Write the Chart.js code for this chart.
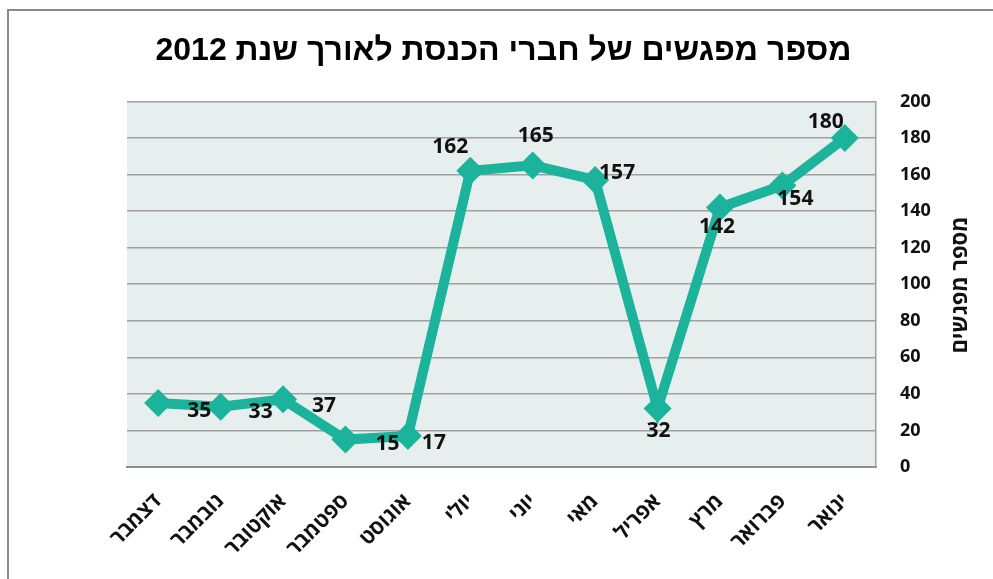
<!DOCTYPE html>
<html lang="he">
<head>
<meta charset="utf-8">
<script src="https://cdn.jsdelivr.net/npm/chart.js@4"></script>
<style>
  html, body { margin: 0; padding: 0; background: #ffffff; }
  #wrap { position: relative; width: 993px; height: 579px; overflow: hidden; }
  #frame { position: absolute; left: 7px; top: 9px; width: 1100px; height: 700px;
           border-top: 2px solid #8a8a8a; border-left: 2px solid #8a8a8a; box-sizing: border-box; }
  canvas { position: absolute; left: 0; top: 0; }
</style>
</head>
<body>
<div id="wrap">
  <div id="frame"></div>
  <canvas id="c" width="993" height="579"></canvas>
</div>
<script>
const chartTitle = 'מספר מפגשים של חברי הכנסת לאורך שנת 2012';
const yAxisTitle = 'מספר מפגשים';
const months = ['ינואר', 'פברואר', 'מרץ', 'אפריל', 'מאי', 'יוני', 'יולי', 'אוגוסט', 'ספטמבר', 'אוקטובר', 'נובמבר', 'דצמבר'];
const meetings = [180, 154, 142, 32, 157, 165, 162, 17, 15, 37, 33, 35];
const yTicks = { min: 0, max: 200, step: 20 };
// label placement relative to each point (dx, dy in px)
const labelAnchor = [[-19,-16],[13,14],[-3,20],[1,23],[22,-7],[3,-29],[-20,-24],[26,7],[42,4],[41,7],[40,5],[41,8]];

const teal = '#1bb39b';
const hebFont = "'Open Sans', 'DejaVu Sans', sans-serif";

const plotBg = {
  id: 'plotBg',
  beforeDraw(chart) {
    const { ctx, chartArea: a } = chart;
    ctx.save();
    ctx.fillStyle = '#e6efed';
    ctx.fillRect(a.left, a.top, a.right - a.left, a.bottom - a.top);
    ctx.restore();
  }
};

const valueLabels = {
  id: 'valueLabels',
  afterDatasetsDraw(chart) {
    const { ctx } = chart;
    const meta = chart.getDatasetMeta(0);
    ctx.save();
    ctx.fillStyle = '#111';
    ctx.font = "bold 21px 'Open Sans', 'DejaVu Sans', sans-serif";
    ctx.textAlign = 'center';
    ctx.textBaseline = 'middle';
    meta.data.forEach((pt, i) => {
      const [dx, dy] = labelAnchor[i];
      ctx.fillText(String(meetings[i]), pt.x + dx, pt.y + dy);
    });
    ctx.restore();
  }
};

const yTitle = {
  id: 'yTitle',
  afterDraw(chart) {
    const { ctx } = chart;
    ctx.save();
    ctx.translate(961, 285);
    ctx.rotate(-Math.PI / 2);
    ctx.fillStyle = '#111';
    ctx.font = "bold 22px 'Open Sans', 'DejaVu Sans', sans-serif";
    ctx.textAlign = 'center';
    ctx.textBaseline = 'middle';
    ctx.fillText(yAxisTitle, 0, 0);
    ctx.restore();
  }
};

new Chart(document.getElementById('c'), {
  type: 'line',
  data: {
    labels: months,
    datasets: [{
      data: meetings,
      xAxisID: 'x',
      yAxisID: 'y',
      borderColor: teal,
      backgroundColor: teal,
      borderWidth: 10,
      pointStyle: 'rectRot',
      pointRadius: 14,
      pointBorderWidth: 0,
      pointBackgroundColor: teal,
      tension: 0,
      fill: false
    }]
  },
  options: {
    responsive: false,
    animation: false,
    layout: { padding: { left: 14, right: 0, top: 0, bottom: 0 } },
    plugins: {
      legend: { display: false },
      tooltip: { enabled: false },
      title: {
        display: true,
        text: chartTitle,
        color: '#000',
        font: { family: "'Liberation Sans', Arial, sans-serif", size: 32, weight: 'bold' },
        padding: { top: 32, bottom: 31 }
      }
    },
    scales: {
      x: {
        type: 'category',
        reverse: true,
        offset: true,
        grid: { display: false, drawTicks: false },
        border: { display: true, color: '#8f8f8f', width: 2 },
        ticks: {
          color: '#111',
          font: { family: hebFont, size: 21, weight: 'bold' },
          maxRotation: 45, minRotation: 45,
          padding: 22,
          autoSkip: false
        },
        afterFit(scale) { scale.height = 112; }
      },
      y: {
        position: 'right',
        min: yTicks.min, max: yTicks.max,
        grid: { color: '#a0a0a0', lineWidth: 1.5, drawTicks: false },
        border: { display: true, color: '#a0a0a0', width: 1.5 },
        ticks: {
          stepSize: yTicks.step,
          color: '#111',
          font: { family: hebFont, size: 18, weight: 'bold' },
          padding: 24
        },
        afterFit(scale) { scale.width = 117; }
      },
      spacer: {
        type: 'linear',
        axis: 'y',
        position: 'left',
        display: true,
        grid: { display: false, drawTicks: false },
        border: { display: false },
        ticks: { display: false },
        afterFit(scale) { scale.width = 113; }
      }
    }
  },
  plugins: [plotBg, valueLabels, yTitle]
});
</script>
</body>
</html>
